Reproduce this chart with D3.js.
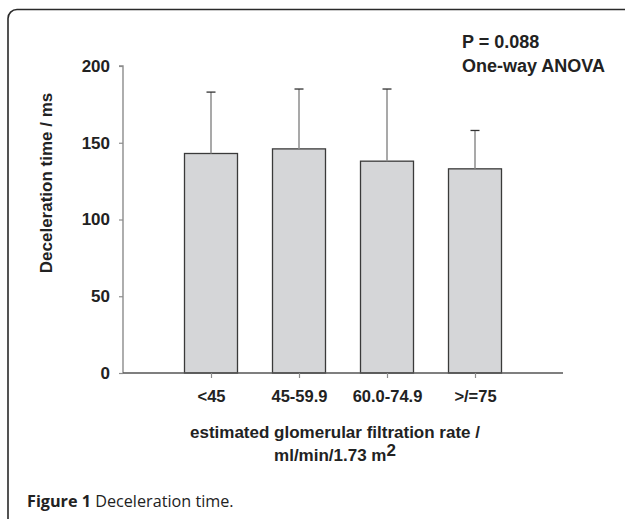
<!DOCTYPE html>
<html>
<head>
<meta charset="utf-8">
<script src="https://cdn.jsdelivr.net/npm/d3@7"></script>
<style>
  html, body { margin: 0; padding: 0; background: #fff; }
  svg { display: block; }
</style>
</head>
<body>
<svg id="chart" width="625" height="519"></svg>
<script>
const categories = ["<45", "45-59.9", "60.0-74.9", ">/=75"];
const means = [143, 146, 138, 133];
const sds = [40, 39, 47, 25];
const yTicks = [0, 50, 100, 150, 200];

const svg = d3.select("#chart");
const font = "'Liberation Sans', Arial, Helvetica, sans-serif";

// frame
svg.append("rect")
  .attr("x", 8).attr("y", 9.5)
  .attr("width", 700).attr("height", 600)
  .attr("rx", 9).attr("ry", 9)
  .attr("fill", "none").attr("stroke", "#2a2a2a").attr("stroke-width", 1.6);

const x = d3.scaleLinear().domain([0, categories.length + 1]).range([123, 563]);
const y = d3.scaleLinear().domain([0, 200]).range([373, 66]);
const barW = 53;

// bars
const g = svg.append("g");
g.selectAll("rect.bar").data(means).join("rect")
  .attr("class", "bar")
  .attr("x", (d, i) => x(i + 1) - barW / 2)
  .attr("y", d => y(d))
  .attr("width", barW)
  .attr("height", d => y(0) - y(d))
  .attr("fill", "#d5d6d8")
  .attr("stroke", "#3a3a3a")
  .attr("stroke-width", 1.3);

// error bars
g.selectAll("line.err").data(means).join("line")
  .attr("x1", (d, i) => x(i + 1)).attr("x2", (d, i) => x(i + 1))
  .attr("y1", d => y(d)).attr("y2", (d, i) => y(d + sds[i]))
  .attr("stroke", "#8c8c8c").attr("stroke-width", 1.5);
g.selectAll("line.cap").data(means).join("line")
  .attr("x1", (d, i) => x(i + 1) - 4.5).attr("x2", (d, i) => x(i + 1) + 4.5)
  .attr("y1", (d, i) => y(d + sds[i])).attr("y2", (d, i) => y(d + sds[i]))
  .attr("stroke", "#333").attr("stroke-width", 1.3);

// y axis
const yAxis = d3.axisLeft(y).tickValues(yTicks).tickSize(4).tickPadding(9);
const ya = svg.append("g").attr("transform", "translate(123,0)").call(yAxis);
ya.attr("font-size", null).attr("font-family", null);
ya.select(".domain").attr("stroke", "#8c8c8c").attr("stroke-width", 1.4).attr("d", `M-4,${y(200)}H0V${y(0)}`);
ya.selectAll(".tick line").attr("stroke", "#8c8c8c").attr("stroke-width", 1.2);
ya.selectAll(".tick text").attr("font-family", font).attr("font-weight", "bold")
  .attr("font-size", 17).attr("fill", "#222");

// x axis
const xAxis = d3.axisBottom(x).tickValues(categories.map((c, i) => i + 1))
  .tickFormat((d) => categories[d - 1]).tickSize(5).tickPadding(12);
const xa = svg.append("g").attr("transform", `translate(0,${y(0)})`).call(xAxis);
xa.attr("font-size", null).attr("font-family", null);
xa.select(".domain").attr("stroke", "#555").attr("stroke-width", 1.4).attr("d", `M123,0H563`);
xa.selectAll(".tick line").attr("stroke", "#8c8c8c").attr("stroke-width", 1.2);
xa.selectAll(".tick text").attr("font-family", font).attr("font-weight", "bold")
  .attr("font-size", 16.5).attr("fill", "#222");

// y title
svg.append("text")
  .attr("transform", `translate(52,183) rotate(-90)`)
  .attr("text-anchor", "middle")
  .attr("font-family", font).attr("font-weight", "bold").attr("font-size", 17)
  .attr("fill", "#222")
  .text("Deceleration time / ms");

// x title
svg.append("text")
  .attr("x", 335).attr("y", 438).attr("text-anchor", "middle")
  .attr("font-family", font).attr("font-weight", "bold").attr("font-size", 17)
  .attr("fill", "#222")
  .text("estimated glomerular filtration rate /");
const t2 = svg.append("text")
  .attr("x", 335).attr("y", 461).attr("text-anchor", "middle")
  .attr("font-family", font).attr("font-weight", "bold").attr("font-size", 17)
  .attr("fill", "#222");
t2.append("tspan").text("ml/min/1.73 m");
t2.append("tspan").attr("dy", -5).attr("font-size", 17).text("2");

// annotation
svg.append("text").attr("x", 462).attr("y", 48)
  .attr("font-family", font).attr("font-weight", "bold").attr("font-size", 18)
  .attr("fill", "#222").text("P = 0.088");
svg.append("text").attr("x", 462).attr("y", 72)
  .attr("font-family", font).attr("font-weight", "bold").attr("font-size", 18)
  .attr("fill", "#222").text("One-way ANOVA");

// caption
const cap = svg.append("text").attr("x", 27).attr("y", 507)
  .attr("font-family", "'Open Sans', 'Noto Sans', sans-serif").attr("font-size", 16.2)
  .attr("fill", "#222");
cap.append("tspan").attr("font-weight", "bold").text("Figure 1");
cap.append("tspan").text(" Deceleration time.");
</script>
</body>
</html>
